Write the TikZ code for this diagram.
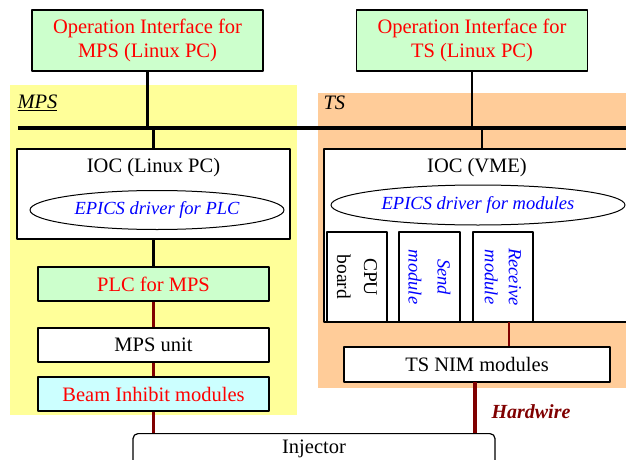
\documentclass[tikz,border=0pt]{standalone}
\usepackage{fontspec}
\setmainfont{Liberation Serif}
\usetikzlibrary{shapes.geometric}

\definecolor{oigreen}{HTML}{CCFFCC}
\definecolor{mpsyellow}{HTML}{FFFF99}
\definecolor{tsorange}{HTML}{FFCC99}
\definecolor{bicyan}{HTML}{CCFFFF}
\definecolor{txtred}{HTML}{FF0000}
\definecolor{txtblue}{HTML}{0000FF}
\definecolor{wirered}{HTML}{800000}

\begin{document}
\begin{tikzpicture}[
    x=1pt, y=-1pt,
    line join=round,
    % boxes and texts
    box/.style={draw=black, line width=1.2pt, fill=white, inner sep=0pt,
        font=\fontsize{20.5}{24.5}\selectfont},
    drvtext/.style={font=\fontsize{18.5}{22}\selectfont\itshape, text=txtblue},
    slot/.style={box, minimum width=90pt, rotate=-90, align=center,
        font=\fontsize{19.5}{27}\selectfont},
    % connectors
    lan/.style={line width=2.4pt},
    wire/.style={line width=2.6pt, wirered},
]
\useasboundingbox (0,0) rectangle (626,460);

% ---- areas MPS / TS ----
\fill[mpsyellow] (10,85) rectangle (297,415);
\fill[tsorange] (318,93) rectangle (630,388);
\node[anchor=west, font=\fontsize{20.5}{24}\selectfont\itshape] (mpslbl) at (14,103) {\underline{MPS}};
\node[anchor=west, font=\fontsize{20.5}{24}\selectfont\itshape] (tslbl) at (320,103) {TS};

% ---- operation interfaces ----
\node[box, fill=oigreen, text=txtred, align=center, minimum width=231pt, minimum height=61pt]
    (oimps) at (147.5,40.5) {Operation Interface for\\MPS (Linux PC)};
\node[box, fill=oigreen, text=txtred, align=center, minimum width=231pt, minimum height=61pt]
    (oits) at (472,40.5) {Operation Interface for\\TS (Linux PC)};

% ---- network ----
\coordinate (busl) at (18,128);
\coordinate (busr) at (630,128);
\draw[line width=3.2pt] (busl) -- (busr);
\draw[lan] (oimps.south) -- (oimps.south |- busl);
\draw[lan] (oits.south) -- (oits.south |- busl);

% ---- MPS side ----
\node[box, minimum width=273pt, minimum height=90pt] (iocl) at (153.5,194) {};
\node[box, draw=none, fill=none] (iocltxt) at (153.5,168) {IOC (Linux PC)};
\node[ellipse, draw, line width=1pt, inner sep=0pt, minimum width=254pt, minimum height=39pt,
    drvtext] (drvl) at (157,210) {EPICS driver for PLC};

\node[box, fill=oigreen, text=txtred, minimum width=231pt, minimum height=34pt]
    (plc) at (153.5,284) {PLC for MPS};
\node[box, minimum width=231pt, minimum height=34pt] (mpsu) at (153.5,345) {MPS unit};
\node[box, fill=bicyan, text=txtred, minimum width=231pt, minimum height=34pt]
    (bim) at (153.5,394) {Beam Inhibit modules};

\draw[lan] (iocl.north) -- (iocl.north |- busl);
\draw[lan] (iocl.south) -- (plc.north);

% ---- TS side ----
\node[box, minimum width=316pt, minimum height=173pt] (iocv) at (482,235.5) {};
\node[box, draw=none, fill=none] (iocvtxt) at (477,168) {IOC (VME)};
\node[ellipse, draw, line width=1pt, inner sep=0pt, minimum width=294pt, minimum height=40pt,
    drvtext] (drvv) at (478,205) {EPICS driver for modules};

\node[slot, minimum height=60pt] (cpu) at (357,277) {CPU\\board};
\node[slot, minimum height=61pt, font=\fontsize{18.5}{29}\selectfont\itshape, text=txtblue]
    (send) at (429.5,277) {Send\\module};
\node[slot, minimum height=60pt, font=\fontsize{18.5}{24}\selectfont\itshape, text=txtblue]
    (recv) at (503,277) {Receive\\module};

\node[box, minimum width=266pt, minimum height=35pt] (tsnim) at (477,364.5) {TS NIM modules};

\draw[lan] (iocv.north) -- (iocv.north |- busl);

% ---- injector ----
\node[box, rounded corners=5pt, anchor=north, minimum width=362pt, minimum height=60pt]
    (inj) at (314,433) {};
\node[box, draw=none, fill=none] (injtxt) at (314,449) {Injector};

% ---- hardwire ----
\draw[wire] (plc.south) -- (mpsu.north);
\draw[wire] (mpsu.south) -- (bim.north);
\draw[wire] (bim.south) -- (bim.south |- inj.north);
\coordinate (rxw) at (509,322);
\draw[wire] (rxw) -- (rxw |- tsnim.north);
\coordinate (hw) at (475,382);
\draw[wire, line width=3.4pt] (hw) -- (hw |- inj.north);
\node[font=\fontsize{20}{24}\selectfont\bfseries\itshape, text=wirered] (hwlbl) at (531,412) {Hardwire};

\end{tikzpicture}
\end{document}
